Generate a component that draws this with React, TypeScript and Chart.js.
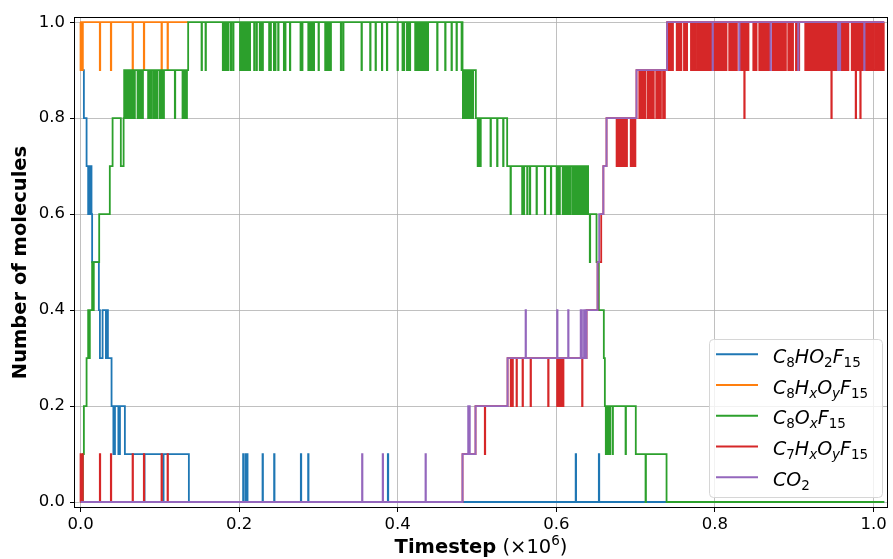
import React, { useEffect, useRef } from "react";
import { Chart, registerables } from "chart.js";
Chart.register(...registerables);

type Step = [number, number];
type Spikes = [number, number[]][];
type Tok = [string, "i" | "s" | "si"];

// ---------- axes ----------
const X_TICKS = [0, 0.2, 0.4, 0.6, 0.8, 1.0];
const Y_TICKS = [0, 0.2, 0.4, 0.6, 0.8, 1.0];
const X_MIN = -0.007;
const X_MAX = 1.017;
const Y_MIN = -0.0104;
const Y_MAX = 1.0088;
const END_X = 1.0135;
const SPIKE_W = 0.0005;

// ---------- series: step change points [x, value] and brief excursions [level, x list] ----------
const blueSteps: Step[] = [
  [0, 0.9], [0.0042, 0.8], [0.0076, 0.7], [0.0096, 0.6], [0.0117, 0.7], [0.0138, 0.6],
  [0.0146, 0.5], [0.0231, 0.4], [0.0244, 0.3], [0.0278, 0.4], [0.032, 0.3], [0.0391, 0.2],
  [0.0559, 0.1], [0.1366, 0],
];
const blueSpikes: Spikes = [
  [0.4, [0.034]],
  [0.1, [0.0414, 0.0429, 0.0477, 0.0492, 0.205, 0.2081, 0.2101, 0.2295, 0.2441, 0.2778, 0.287, 0.3875, 0.6244, 0.6536]],
  [0, [0.0802, 0.1042]],
];

const orangeSteps: Step[] = [[0, 1.0]];
const orangeEnd = 0.1357;
const orangeSpikes: Spikes = [
  [0.9, [0, 0.0008, 0.0016, 0.0024, 0.0243, 0.0382, 0.0656, 0.0798, 0.1021, 0.1097]],
];

const greenSteps: Step[] = [
  [0, 0], [0.0029, 0.1], [0.0042, 0.2], [0.0076, 0.3], [0.0096, 0.4], [0.0111, 0.3],
  [0.0117, 0.4], [0.0146, 0.5], [0.0155, 0.4], [0.0167, 0.5], [0.0235, 0.6], [0.0369, 0.7],
  [0.0404, 0.8], [0.0508, 0.7], [0.0543, 0.8], [0.055, 0.9], [0.1357, 1.0], [0.4817, 0.9],
  [0.4985, 0.8], [0.538, 0.7], [0.6401, 0.6], [0.6507, 0.5], [0.6536, 0.4], [0.6599, 0.3],
  [0.6612, 0.2], [0.7002, 0.1], [0.739, 0],
];
const greenSpikes: Spikes = [
  [0.9, [
    0.1526, 0.1576, 0.1794, 0.1819, 0.1841, 0.1861, 0.1895, 0.1924,
    0.2011, 0.2029, 0.2047, 0.2065, 0.2083, 0.2101, 0.2119, 0.2133,
    0.2189, 0.2219, 0.226, 0.2278, 0.2295,
    0.2378, 0.2396, 0.2438, 0.2454, 0.2492, 0.2564, 0.258, 0.264,
    0.2774, 0.2794, 0.2872, 0.289, 0.2908, 0.2926, 0.294,
    0.3001, 0.3085, 0.3106, 0.3131, 0.3153, 0.3282, 0.3311, 0.3543, 0.3652, 0.372, 0.38, 0.3863,
    0.3997, 0.406, 0.4077, 0.4116, 0.4134, 0.4152,
    0.422, 0.4238, 0.4256, 0.4274, 0.4292, 0.431, 0.4328, 0.4346, 0.4364, 0.4378,
    0.4497, 0.4598, 0.4678, 0.4741, 0.4805,
  ]],
  [0.8, [
    0.0554, 0.0572, 0.059, 0.0608, 0.0626, 0.0644, 0.0662, 0.068,
    0.0719, 0.0739, 0.076, 0.0782, 0.0852, 0.0874, 0.0895, 0.0924, 0.0946, 0.0966,
    0.1, 0.1021, 0.1047, 0.1189, 0.1286, 0.1311, 0.1337,
    0.4822, 0.484, 0.4858, 0.4876, 0.4894, 0.4912, 0.493, 0.4946,
  ]],
  [0.7, [0.5008, 0.5026, 0.5042, 0.517, 0.5253, 0.5329]],
  [0.6, [
    0.5422, 0.5569, 0.559, 0.5632, 0.5666, 0.575, 0.5855, 0.5931,
    0.6004, 0.6022, 0.604, 0.608, 0.6098, 0.6116, 0.6134, 0.6152, 0.617,
    0.62, 0.6218, 0.6236, 0.6254, 0.6272, 0.629, 0.6308, 0.6326, 0.6344, 0.6362, 0.638, 0.6393,
  ]],
  [0.5, [0.6422]],
  [0.1, [0.6624, 0.6649, 0.6674, 0.6709, 0.6873]],
  [0, [0.7125]],
];

const redSteps: Step[] = [
  [0, 0], [0.4817, 0.1], [0.4981, 0.2], [0.5385, 0.3], [0.6381, 0.4], [0.652, 0.5],
  [0.6566, 0.6], [0.6593, 0.7], [0.6633, 0.8], [0.7011, 0.9], [0.7397, 1.0],
];
const redSpikes: Spikes = [
  [0.1, [0, 0.0008, 0.0016, 0.0024, 0.0243, 0.0382, 0.0656, 0.0798, 0.1021, 0.1097, 0.5098]],
  [0.2, [0.5425, 0.5447, 0.5498, 0.5574, 0.5675, 0.5897, 0.601, 0.6025, 0.604, 0.6055, 0.607, 0.6085, 0.6325]],
  [0.7, [0.676, 0.6778, 0.6796, 0.6814, 0.6832, 0.685, 0.6868, 0.6886, 0.6938, 0.6956, 0.6974, 0.6992]],
  [0.8, [
    0.7046, 0.7064, 0.7082, 0.71, 0.7118, 0.7152, 0.717, 0.7188, 0.7206, 0.7224,
    0.726, 0.7278, 0.7296, 0.7314, 0.7346, 0.7364,
    0.837, 0.9468, 0.9775, 0.9833,
  ]],
  [0.9, [
    0.7412, 0.743, 0.7448, 0.7466,
    0.7518, 0.7536, 0.7554, 0.7572,
    0.761, 0.7628, 0.7644,
    0.7698, 0.7716, 0.7734, 0.775,
    0.7778, 0.7796, 0.7814, 0.7832, 0.785, 0.7868,
    0.7896, 0.7914, 0.7932, 0.795,
    0.798, 0.7998, 0.8016, 0.8034, 0.8052, 0.807, 0.8088, 0.8106, 0.8124, 0.8141,
    0.818, 0.8198, 0.8216, 0.8234, 0.8252, 0.8272,
    0.8316, 0.8334, 0.8352, 0.8386, 0.8402, 0.8418,
    0.8484, 0.8502, 0.852,
    0.8559, 0.8577, 0.8594,
    0.8619, 0.8637, 0.8655, 0.8673, 0.8688,
    0.8728, 0.8746, 0.8764, 0.8782, 0.88, 0.8818, 0.8836, 0.8854, 0.8872, 0.889,
    0.8925, 0.8943, 0.8961, 0.898,
    0.9022, 0.904, 0.9058,
    0.9139, 0.9157, 0.9175, 0.9193, 0.9211, 0.9229, 0.9247, 0.9265, 0.9283,
    0.9303, 0.9321, 0.9339, 0.9357, 0.9375, 0.9393, 0.9411, 0.9429, 0.9447, 0.9488, 0.9506, 0.9524,
    0.9555, 0.9573, 0.9591, 0.9609, 0.9627, 0.9645, 0.9663, 0.9678,
    0.9725, 0.9743, 0.9759,
    0.9792, 0.981, 0.9852, 0.9866,
    0.9901, 0.9919, 0.9937, 0.9955, 0.9973, 0.999,
    1.0018, 1.0036, 1.0054, 1.0072, 1.009, 1.0108, 1.0124,
  ]],
];

const purpleSteps: Step[] = [
  [0, 0], [0.4817, 0.1], [0.4888, 0.2], [0.4909, 0.1], [0.4981, 0.2], [0.5385, 0.3],
  [0.6381, 0.4], [0.652, 0.5], [0.654, 0.6], [0.6593, 0.7], [0.6633, 0.8], [0.7011, 0.9],
  [0.7397, 1.0],
];
const purpleSpikes: Spikes = [
  [0.1, [0.355, 0.381, 0.435]],
  [0.4, [0.5612, 0.601, 0.6149, 0.6307, 0.6318, 0.6349, 0.636]],
  [0.9, [0.797, 0.8305, 0.8701, 0.9049, 0.9553, 0.9575, 0.9882]],
];

const SERIES_NAMES = ["C8HO2F15", "C8HxOyF15", "C8OxF15", "C7HxOyF15", "CO2"];
const SERIES_COLORS = ["#1f77b4", "#ff7f0e", "#2ca02c", "#d62728", "#9467bd"];
const LEGEND_TOKENS: Tok[][] = [
  [["C", "i"], ["8", "s"], ["H", "i"], ["O", "i"], ["2", "s"], ["F", "i"], ["15", "s"]],
  [["C", "i"], ["8", "s"], ["H", "i"], ["x", "si"], ["O", "i"], ["y", "si"], ["F", "i"], ["15", "s"]],
  [["C", "i"], ["8", "s"], ["O", "i"], ["x", "si"], ["F", "i"], ["15", "s"]],
  [["C", "i"], ["7", "s"], ["H", "i"], ["x", "si"], ["O", "i"], ["y", "si"], ["F", "i"], ["15", "s"]],
  [["C", "i"], ["O", "i"], ["2", "s"]],
];

function buildSeries(steps: Step[], spikes: Spikes, end: number) {
  const valueAt = (x: number) => {
    let v = steps[0][1];
    for (const [sx, sy] of steps) {
      if (sx <= x) v = sy;
      else break;
    }
    return v;
  };
  const pts: { x: number; y: number }[] = steps.map(([x, y]) => ({ x, y }));
  for (const [level, xs] of spikes) {
    for (const x of xs) {
      pts.push({ x, y: level });
      pts.push({ x: x + SPIKE_W, y: valueAt(x + SPIKE_W) });
    }
  }
  pts.push({ x: end, y: valueAt(end) });
  pts.sort((p, q) => p.x - q.x);
  return pts;
}

const FONT = '"DejaVu Sans"';

function drawMath(ctx: CanvasRenderingContext2D, toks: Tok[], x: number, y: number) {
  let cx = x;
  for (const [t, k] of toks) {
    if (k === "i") {
      ctx.font = `italic 19px ${FONT}`;
      ctx.fillText(t, cx, y);
    } else if (k === "s") {
      ctx.font = `13.5px ${FONT}`;
      ctx.fillText(t, cx, y + 4);
    } else {
      ctx.font = `italic 13.5px ${FONT}`;
      ctx.fillText(t, cx, y + 4);
    }
    cx += ctx.measureText(t).width;
  }
}

const decorPlugin = {
  id: "decor",
  afterDraw(chart: any) {
    const ctx: CanvasRenderingContext2D = chart.ctx;
    const a = chart.chartArea;
    ctx.save();
    // spines
    ctx.strokeStyle = "#000";
    ctx.lineWidth = 1;
    ctx.strokeRect(a.left - 0.5, a.top - 0.5, a.right - a.left + 1, a.bottom - a.top + 1);

    // legend
    const bw = 173, bh = 158;
    const bx = a.right - 5 - bw, by = a.bottom - 10 - bh;
    ctx.beginPath();
    (ctx as any).roundRect(bx + 0.5, by + 0.5, bw, bh, 4);
    ctx.fillStyle = "rgba(255,255,255,0.8)";
    ctx.fill();
    ctx.strokeStyle = "#d6d6d6";
    ctx.lineWidth = 1;
    ctx.stroke();
    ctx.textAlign = "left";
    ctx.textBaseline = "alphabetic";
    for (let i = 0; i < SERIES_NAMES.length; i++) {
      const cy = by + 15.3 + i * 30.75;
      ctx.strokeStyle = SERIES_COLORS[i];
      ctx.lineWidth = 2;
      ctx.beginPath();
      ctx.moveTo(bx + 7, cy);
      ctx.lineTo(bx + 49, cy);
      ctx.stroke();
      ctx.fillStyle = "#000";
      drawMath(ctx, LEGEND_TOKENS[i], bx + 64, cy + 8.5);
    }

    // x title
    const runs: [string, string, number][] = [
      ["Timestep", `bold 19.5px ${FONT}`, 0],
      [" (×10", `19.5px ${FONT}`, 0],
      ["6", `13.5px ${FONT}`, -8],
      [")", `19.5px ${FONT}`, 0],
    ];
    let tw = 0;
    for (const [t, f] of runs) {
      ctx.font = f;
      tw += ctx.measureText(t).width;
    }
    let tx = (a.left + a.right) / 2 - tw / 2;
    ctx.fillStyle = "#000";
    for (const [t, f, dy] of runs) {
      ctx.font = f;
      ctx.fillText(t, tx, 553 + dy);
      tx += ctx.measureText(t).width;
    }

    // y title
    ctx.translate(26, (a.top + a.bottom) / 2);
    ctx.rotate(-Math.PI / 2);
    ctx.textAlign = "center";
    ctx.font = `bold 19.5px ${FONT}`;
    ctx.fillText("Number of molecules", 0, 0);
    ctx.restore();
  },
};

export default function App() {
  const ref = useRef<HTMLCanvasElement>(null);
  useEffect(() => {
    const all = [
      buildSeries(blueSteps, blueSpikes, END_X),
      buildSeries(orangeSteps, orangeSpikes, orangeEnd),
      buildSeries(greenSteps, greenSpikes, END_X),
      buildSeries(redSteps, redSpikes, END_X),
      buildSeries(purpleSteps, purpleSpikes, END_X),
    ];
    const tickFont = { family: "DejaVu Sans", size: 16.5 };
    const chart = new Chart(ref.current as HTMLCanvasElement, {
      type: "line",
      data: {
        datasets: all.map((d, i) => ({
          label: SERIES_NAMES[i],
          data: d,
          borderColor: SERIES_COLORS[i],
          backgroundColor: SERIES_COLORS[i],
          borderWidth: 1.8,
          pointRadius: 0,
          stepped: true,
          fill: false,
          order: SERIES_NAMES.length - i,
        })),
      },
      options: {
        responsive: false,
        animation: false,
        devicePixelRatio: 1,
        parsing: false,
        events: [],
        layout: { padding: { top: 18, right: 6, left: 0, bottom: 0 } },
        plugins: { legend: { display: false }, tooltip: { enabled: false } },
        scales: {
          x: {
            type: "linear",
            min: X_MIN,
            max: X_MAX,
            afterBuildTicks: (s: any) => {
              s.ticks = X_TICKS.map((v) => ({ value: v }));
            },
            afterFit: (s: any) => {
              s.height = 52;
            },
            grid: { color: "#b0b0b0", lineWidth: 0.8, tickColor: "#000", tickLength: 5, tickWidth: 1 },
            border: { display: false },
            ticks: {
              font: tickFont,
              color: "#000",
              padding: 3,
              maxRotation: 0,
              autoSkip: false,
              callback: (v: any) => Number(v).toFixed(1),
            },
          },
          y: {
            type: "linear",
            min: Y_MIN,
            max: Y_MAX,
            afterBuildTicks: (s: any) => {
              s.ticks = Y_TICKS.map((v) => ({ value: v }));
            },
            afterFit: (s: any) => {
              s.width = 75;
            },
            grid: { color: "#b0b0b0", lineWidth: 0.8, tickColor: "#000", tickLength: 5, tickWidth: 1 },
            border: { display: false },
            ticks: {
              font: tickFont,
              color: "#000",
              padding: 5,
              autoSkip: false,
              callback: (v: any) => Number(v).toFixed(1),
            },
          },
        },
      } as any,
      plugins: [decorPlugin],
    });
    return () => chart.destroy();
  }, []);
  return (
    <div style={{ position: "absolute", left: 0, top: 0, width: 893, height: 559, background: "#fff" }}>
      <canvas ref={ref} width={893} height={559} style={{ width: 893, height: 559, display: "block" }} />
    </div>
  );
}
